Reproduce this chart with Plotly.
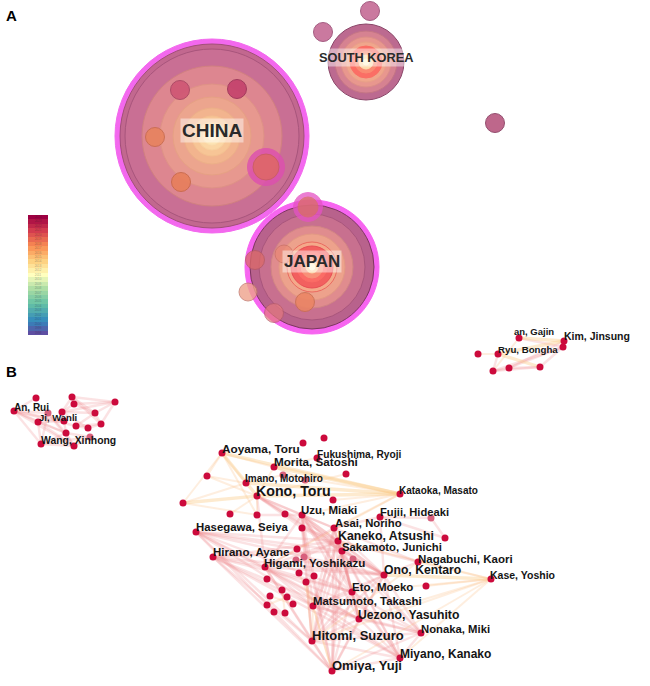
import numpy as np
import plotly.graph_objects as go

# ---------- Panel A: country overlay map ----------
COUNTRIES = ["CHINA", "JAPAN", "SOUTH KOREA"]
COUNTRY_X = [212, 312, 366]
COUNTRY_Y = [136, 267, 62]
COUNTRY_LABEL_Y = [130, 261, 57]
COUNTRY_FONT = [19, 17, 12.8]
# rings of every country: centre index, radius, fill, outline
RING_COUNTRY = [0]*11 + [1]*11 + [2]*8
RING_R = [97, 92, 87, 70, 52, 39, 28, 20, 14, 9, 4,
          67, 62, 53, 41, 33, 25, 21, 15, 11, 6, 3,
          38, 31, 25, 20, 16, 11, 7, 3]
RING_FILL = ["#f368ee", "#c2688f", "#c96f94", "#dd8690", "#e7988f", "#eca58e", "#f2b48e", "#f7c596", "#fbd6a4", "#fde4b4", "#fff2cc",
             "#f765f0", "#b8628c", "#c8708f", "#e08c8e", "#eda28c", "#f4a98a", "#f2605f", "#fb6c66", "#f89078", "#fdd6a8", "#fff6d8",
             "#bc6a90", "#d68291", "#e8978e", "#f0a68c", "#fb6e65", "#fa8a72", "#fddcae", "#fff6d0"]
RING_EDGE = ["#f368ee", "#a24f78", "#a8557c", "#d08080", "#de9286", "#e6a184", "#ecb088", "#f4c090", "#f7d09e", "#fadfb0", "#fff2cc",
             "#f765f0", "#7d3560", "#a8557c", "#d18584", "#e39a84", "#ea6a60", "#e84f55", "#fb6c66", "#f89078", "#fdd6a8", "#fff6d8",
             "#8a4568", "#c47585", "#dc8f88", "#e8a088", "#fb6e65", "#fa8a72", "#fddcae", "#fff6d0"]

SMALL_X = [370, 323, 495, 180, 237, 155, 181, 266, 266, 308, 308, 284, 255, 248, 305, 274]
SMALL_Y = [11, 32, 123, 90, 89, 137, 182, 167, 167, 207, 207, 254, 260, 292, 302, 313]
SMALL_R = [9.5, 9.5, 9.5, 9.5, 9.5, 9.5, 9.5, 18.5, 13, 14.5, 10, 9, 9.5, 9, 9.5, 9.5]
SMALL_FILL = ["#c8729a", "#c8729a", "#bb5f85", "#cf5674", "#c4416c", "#e8835f", "#e87f5b", "#dd4fb0", "#df6a5b",
              "#e552c4", "#d8705f", "#ea8672", "#dc6a68", "#eea28c", "#eb8462", "#e57a7e"]
SMALL_EDGE = ["#a0557c", "#a0557c", "#8f4668", "#a94563", "#9c3358", "#c96c4e", "#c9694a", "#dd4fb0", "#c75f50",
              "#e552c4", "#d8705f", "#c96d5e", "#b85a60", "#c4796e", "#c96e52", "#b85c68"]
SMALL_ALPHA = [0.95, 0.95, 0.95, 0.9, 0.9, 0.9, 0.9, 0.8, 0.75, 0.75, 0.7, 0.65, 0.75, 0.8, 0.85, 0.7]

# Colour key (top to bottom)
KEY_YEARS = [2024, 2023, 2022, 2021, 2020, 2019, 2018, 2017, 2016, 2015, 2014, 2013, 2012, 2011,
             2010, 2009, 2008, 2007, 2006, 2005, 2004, 2003, 2002, 2001, 2000, 1999, 1998]
KEY_COLORS = [[0, "#5e4fa2"], [0.1, "#3288bd"], [0.25, "#66c2a5"], [0.38, "#abdda4"], [0.5, "#ffffbf"],
              [0.62, "#fdd080"], [0.75, "#f98e52"], [0.88, "#d53e4f"], [1, "#9e0142"]]

# ---------- Panel B: author network ----------
NODES = {
    "AO": (222, 453), "N1": (303, 443), "N2": (324, 438), "FU": (317, 458), "MO": (274, 467), "N3": (207, 476),
    "N4": (283, 475), "N5": (305, 480), "N6": (346, 474), "IM": (246, 483), "KO": (257, 496), "N7": (183, 503),
    "N8": (333, 500), "N9": (230, 514), "N10": (257, 515), "N11": (285, 514), "UZ": (302, 515), "HA": (196, 532),
    "N12": (302, 528), "AS": (334, 528), "FJ": (380, 517), "KA": (338, 541), "N13": (297, 549), "SA": (342, 551),
    "HI": (213, 557), "N14": (304, 557), "N15": (296, 560), "N16": (353, 559), "HG": (265, 567), "N17": (299, 573),
    "N18": (314, 576), "N19": (306, 582), "N20": (267, 579), "ON": (384, 575), "ET": (352, 592), "N21": (282, 590),
    "N22": (270, 596), "N23": (287, 597), "N24": (293, 604), "N25": (267, 605), "N26": (274, 612), "N27": (285, 613),
    "MA": (313, 606), "UE": (359, 619), "HT": (312, 641), "OM": (332, 671), "KT": (400, 494), "N28": (431, 518),
    "N29": (445, 538), "NA": (418, 562), "KS": (491, 579), "N30": (426, 586), "NK": (421, 633), "MI": (400, 658),
    # left cluster
    "L1": (36, 398), "L2": (72, 397), "L3": (74, 404), "L4": (115, 402), "AN": (14, 411), "L5": (48, 413),
    "L6": (62, 412), "L7": (95, 413), "JI": (38, 422), "L8": (64, 421), "L9": (76, 426), "L10": (88, 428),
    "L11": (101, 424), "L12": (66, 433), "L13": (90, 437), "WA": (41, 444), "L14": (74, 446),
    # right cluster
    "R1": (478, 354), "RY": (498, 354), "HN": (519, 338), "KI": (564, 341), "R2": (563, 347),
    "R3": (493, 371), "R4": (509, 368), "R5": (540, 367),
}
PALE_NODES = ["N4", "N5", "N14", "N15", "N16", "N28", "L5", "L13"]

ORANGE_THICK = ["AO KT", "MO KT", "KO KT", "IM KT", "KS ON", "AO KO", "N7 KO", "HN KI", "RY R5", "RY KI"]
ORANGE_THIN = ["N7 AO", "N3 AO", "N3 KO", "AO IM", "AO MO", "KO MO", "KO N10", "N4 KT", "KO N9", "N7 N10", "KO N6", "MO FU",
               "KT UZ", "KT N8", "KT HG", "KT AS", "KS NA", "KS UE", "KS HT", "KS MI", "KS ET", "KS N30", "KS KA", "AO N10",
               "N3 IM", "N7 IM", "MO N5", "IM N4", "HN R3", "R1 RY", "N25 N23", "N22 N24", "N21 N27", "KS OM", "NA HT", "OM N19",
               "HT N19", "MA N17", "OM MA", "HT MA"]
PINK_EDGES = ["UZ KA", "UZ ON", "UZ HG", "UZ HT", "UZ OM", "UZ UE", "UZ MA", "UZ SA", "UZ AS", "UZ MI", "UZ NK", "UZ ET",
              "HA HG", "HA HT", "HA OM", "HA MA", "HA UE", "HA ON", "HA KA", "HA ET", "HA N13", "HA SA",
              "HI HG", "HI HT", "HI OM", "HI MA", "HI UE", "HI ON", "HI KA", "HI ET", "HI SA", "HI MI",
              "HG HT", "HG OM", "HG MA", "HG UE", "HG ON", "HG KA", "HG ET", "HG NK", "HG MI", "HG AS",
              "OM HT", "OM UE", "OM ET", "OM KA", "OM ON", "OM SA", "OM AS", "OM NK", "OM MI", "OM N12",
              "HT UE", "HT ET", "HT KA", "HT ON", "HT SA", "HT AS", "HT NK", "HT MI", "HT N12",
              "MI UE", "MI ET", "MI KA", "MI ON", "MI NK", "MI SA", "MI MA", "NK UE", "NK ON", "NK KA", "NK ET", "NK MA",
              "UE KA", "UE ON", "UE ET", "UE MA", "UE SA", "UE AS", "MA KA", "MA ON", "MA ET", "MA SA", "MA AS",
              "KA ON", "KA ET", "KA SA", "KA AS", "KA NA", "ON ET", "ON SA", "ON AS", "ON NA", "ET SA", "ET AS",
              "KO UZ", "KO AS", "KO KA", "KO ON", "KO SA", "KO N12", "KO HG", "N10 UZ", "FJ N28", "FJ N29", "N28 N29", "AS FJ",
              "ON FJ", "NA AS", "N12 KA", "N12 ON", "N14 KA", "N15 ON", "N13 ET", "N16 ON", "N16 HT",
              "AN L5", "AN JI", "AN WA", "AN L8", "AN L12", "AN L14", "AN L9", "AN L1", "L5 JI", "L5 WA", "L5 L12", "L5 L14",
              "JI WA", "JI L12", "JI L14", "JI L8", "WA L12", "WA L14", "L12 L14", "L12 L13", "L13 L14", "WA L13", "L8 L12",
              "L2 L4", "L3 L4", "L2 L3", "L2 L7", "L3 L7", "L4 L7", "L6 L7", "L2 L6", "L3 L6", "L4 L6", "L2 L11", "L4 L11",
              "L9 L10", "L10 L11", "L9 L11", "L7 L9", "L7 L11", "L6 L10",
              "R3 R4", "R4 R5", "R3 R5", "R5 R2", "R3 RY", "R4 R2", "R4 KI", "R3 R2", "HN R2", "KI R2"]

LABELS = ["Aoyama, Toru", "Fukushima, Ryoji", "Morita, Satoshi", "Imano, Motohiro", "Kono, Toru", "Kataoka, Masato",
          "Uzu, Miaki", "Fujii, Hideaki", "Asai, Noriho", "Hasegawa, Seiya", "Kaneko, Atsushi", "Sakamoto, Junichi",
          "Hirano, Ayane", "Nagabuchi, Kaori", "Higami, Yoshikazu", "Ono, Kentaro", "Kase, Yoshio", "Eto, Moeko",
          "Matsumoto, Takashi", "Uezono, Yasuhito", "Nonaka, Miki", "Hitomi, Suzuro", "Miyano, Kanako", "Omiya, Yuji",
          "An, Rui", "Ji, Wanli", "Wang, Xinhong", "an, Gajin", "Kim, Jinsung", "Ryu, Bongha"]
LABEL_X = [222, 317, 274, 245, 256, 399, 301, 380, 335, 196, 338, 342, 213, 418, 264, 384, 490, 352, 313, 358, 421, 312, 400, 332,
           14, 39, 41, 514, 564, 498]
LABEL_Y = [450, 455.5, 463.5, 479, 492, 491, 511.5, 513, 524.5, 528, 537, 548.5, 553.5, 560, 564.5, 571, 576, 588.5, 602.5, 615.5, 630, 637, 655, 667,
           408, 419, 441.5, 332.5, 337.5, 351]
LABEL_SIZE = [11.8, 10.2, 11.7, 10, 14.2, 10, 11.5, 11.2, 11.3, 11.4, 12.3, 11.3, 11.5, 11.5, 11.6, 12.2, 10.5, 11.5, 11.4, 12.2, 11.3, 13, 12, 13,
              10, 9.5, 10.4, 9.5, 10.5, 9.7]


def edge_xy(pairs):
    xs, ys = [], []
    for pair in pairs:
        a, b = pair.split()
        xs += [NODES[a][0], NODES[b][0], None]
        ys += [NODES[a][1], NODES[b][1], None]
    return xs, ys


fig = go.Figure()

# colour key
fig.add_trace(go.Heatmap(x=[28, 48], y=np.linspace(215, 335, len(KEY_YEARS) + 1),
                         z=[[v] for v in KEY_YEARS], colorscale=KEY_COLORS, zsmooth=False,
                         showscale=False, hoverinfo="skip"))
key_y = 215 + (np.arange(len(KEY_YEARS)) + 0.5) * 120 / len(KEY_YEARS)
fig.add_trace(go.Scatter(x=[38] * len(KEY_YEARS), y=key_y, mode="text", text=[str(v) for v in KEY_YEARS],
                         textfont=dict(size=3, color="rgba(30,30,30,0.4)", family="Liberation Sans"), hoverinfo="skip"))

# country rings
fig.add_trace(go.Scatter(
    x=[COUNTRY_X[i] for i in RING_COUNTRY], y=[COUNTRY_Y[i] for i in RING_COUNTRY], mode="markers", hoverinfo="skip",
    marker=dict(size=[2 * r for r in RING_R], sizemode="diameter", color=RING_FILL, opacity=1,
                line=dict(color=RING_EDGE, width=1))))
fig.add_trace(go.Scatter(
    x=SMALL_X, y=SMALL_Y, mode="markers", hoverinfo="skip",
    marker=dict(size=[2 * r for r in SMALL_R], color=SMALL_FILL, opacity=SMALL_ALPHA, line=dict(color=SMALL_EDGE, width=1))))

# network edges: wide soft layer then thin core
x, y = edge_xy(PINK_EDGES)
fig.add_trace(go.Scatter(x=x, y=y, mode="lines", hoverinfo="skip", line=dict(color="rgba(238,140,145,0.25)", width=2.4)))
x, y = edge_xy(ORANGE_THIN)
fig.add_trace(go.Scatter(x=x, y=y, mode="lines", hoverinfo="skip", line=dict(color="rgba(250,190,130,0.26)", width=2)))
x, y = edge_xy(ORANGE_THICK)
fig.add_trace(go.Scatter(x=x, y=y, mode="lines", hoverinfo="skip", line=dict(color="rgba(250,205,140,0.42)", width=3.4)))

# nodes
ids = list(NODES)
fig.add_trace(go.Scatter(
    x=[NODES[k][0] for k in ids], y=[NODES[k][1] for k in ids], mode="markers", hoverinfo="skip",
    marker=dict(size=7, color=["#d8607c" if k in PALE_NODES else "#cc0a3c" for k in ids], line=dict(width=0))))

# author labels
fig.add_trace(go.Scatter(x=LABEL_X, y=LABEL_Y, mode="text", text=LABELS, textposition="middle right", hoverinfo="skip",
                         textfont=dict(size=LABEL_SIZE, color="#151515", family="Liberation Sans", weight="bold")))

# country names
annotations = [dict(x=cx, y=cy, text=name, showarrow=False, xanchor="center", yanchor="middle",
                    bgcolor="rgba(255,255,255,0.45)", borderpad=1,
                    font=dict(size=s, color="#2a2a2a", family="Liberation Sans", weight="bold"))
               for name, cx, cy, s in zip(COUNTRIES, COUNTRY_X, COUNTRY_LABEL_Y, COUNTRY_FONT)]
# panel letters
for letter, py in (("A", 15), ("B", 371)):
    annotations.append(dict(x=4, y=py, text=letter, showarrow=False, xanchor="left", yanchor="middle",
                            font=dict(size=15, color="#000000", family="Liberation Sans", weight="bold")))

fig.update_layout(
    width=650, height=686, margin=dict(l=0, r=0, t=0, b=0), autosize=False, showlegend=False,
    paper_bgcolor="white", plot_bgcolor="white", annotations=annotations,
    xaxis=dict(range=[0, 650], visible=False, fixedrange=True),
    yaxis=dict(range=[686, 0], visible=False, fixedrange=True),
)
fig.write_html("out.html", config={"displayModeBar": False},
               post_script="document.body.style.margin='0';document.body.style.overflow='hidden';")
